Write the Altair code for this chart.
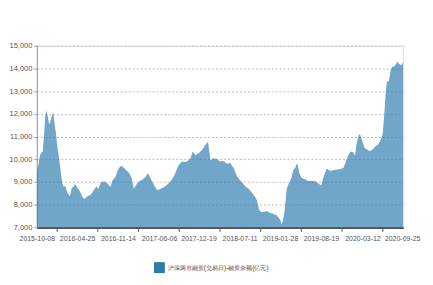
import altair as alt
import pandas as pd

series_name = "沪深两市融资(交易日)-融资余额(亿元)"

dates = [
    "2015-10-08", "2015-10-15", "2015-10-23", "2015-10-30", "2015-11-07", "2015-11-14",
    "2015-11-19", "2015-11-25", "2015-12-01", "2015-12-08", "2015-12-13", "2015-12-21",
    "2015-12-28", "2016-01-04", "2016-01-11", "2016-01-19", "2016-01-27", "2016-02-03",
    "2016-02-11", "2016-02-18", "2016-02-26", "2016-03-08", "2016-03-20", "2016-03-30",
    "2016-04-08", "2016-04-15", "2016-04-27", "2016-05-05", "2016-05-13", "2016-05-21",
    "2016-05-30", "2016-06-07", "2016-06-15", "2016-07-02", "2016-07-18", "2016-07-30",
    "2016-08-09", "2016-08-20", "2016-09-06", "2016-09-21", "2016-09-30", "2016-10-09",
    "2016-10-17", "2016-11-03", "2016-11-14", "2016-11-27", "2016-12-06", "2016-12-22",
    "2017-01-08", "2017-01-20", "2017-02-01", "2017-02-14", "2017-02-26", "2017-03-14",
    "2017-03-28", "2017-04-13", "2017-04-25", "2017-05-11", "2017-05-28", "2017-06-10",
    "2017-06-21", "2017-07-05", "2017-07-16", "2017-08-02", "2017-08-18", "2017-09-02",
    "2017-09-12", "2017-09-28", "2017-10-12", "2017-10-23", "2017-11-09", "2017-11-20",
    "2017-12-04", "2017-12-20", "2018-01-05", "2018-01-22", "2018-02-04", "2018-02-16",
    "2018-03-04", "2018-03-21", "2018-04-06", "2018-04-23", "2018-05-09", "2018-05-26",
    "2018-06-12", "2018-06-28", "2018-07-15", "2018-07-26", "2018-08-08", "2018-08-25",
    "2018-09-10", "2018-09-23", "2018-10-05", "2018-10-16", "2018-10-28", "2018-11-07",
    "2018-11-23", "2018-12-06", "2018-12-18", "2019-01-04", "2019-01-12", "2019-01-20",
    "2019-01-28", "2019-02-05", "2019-02-11", "2019-02-19", "2019-03-02", "2019-03-10",
    "2019-03-19", "2019-03-27", "2019-04-04", "2019-04-13", "2019-04-21", "2019-04-27",
    "2019-05-03", "2019-05-15", "2019-06-01", "2019-06-18", "2019-07-04", "2019-07-21",
    "2019-07-29", "2019-08-15", "2019-08-20", "2019-08-31", "2019-09-10", "2019-09-16",
    "2019-10-03", "2019-10-28", "2019-11-21", "2019-12-08", "2019-12-18", "2020-01-02",
    "2020-01-14", "2020-01-26", "2020-02-04", "2020-02-12", "2020-02-24", "2020-03-01",
    "2020-03-11", "2020-03-23", "2020-04-05", "2020-04-18", "2020-04-30", "2020-05-13",
    "2020-05-29", "2020-06-10", "2020-06-20", "2020-06-26", "2020-07-01", "2020-07-06",
    "2020-07-11", "2020-07-21", "2020-07-31", "2020-08-09", "2020-08-19", "2020-08-26",
    "2020-09-02", "2020-09-08", "2020-09-18", "2020-09-22", "2020-09-25", "2020-09-30",
]

values = [
    9500, 9700, 10150, 10280, 10350, 11200,
    11900, 12160, 11900, 11550, 11600, 11900,
    12080, 11600, 11140, 10500, 10030, 9500,
    8950, 8800, 8820, 8520, 8370, 8740,
    8800, 8910, 8740, 8650, 8520, 8350,
    8250, 8300, 8370, 8440, 8660, 8800,
    8700, 8980, 9020, 8950, 8850, 8800,
    9050, 9240, 9550, 9700, 9680, 9540,
    9390, 9200, 8700, 8900, 9020, 9100,
    9200, 9380, 9150, 8880, 8640, 8680,
    8740, 8800, 8880, 9020, 9240, 9550,
    9750, 9900, 9880, 9900, 10050, 10340,
    10190, 10260, 10410, 10630, 10770, 9970,
    10050, 10000, 9900, 9920, 9800, 9830,
    9600, 9250, 9050, 8950, 8800, 8700,
    8520, 8380, 8200, 7750, 7680, 7680,
    7720, 7640, 7620, 7560, 7530, 7420,
    7350, 7130, 7300, 7700, 8700, 8900,
    9030, 9240, 9540, 9620, 9820, 9700,
    9390, 9170, 9120, 9030, 9050, 9030,
    8990, 8880, 8850, 9200, 9450, 9590,
    9480, 9540, 9560, 9620, 9830, 10190,
    10350, 10300, 10150, 10700, 11100, 11080,
    10780, 10500, 10420, 10350, 10420, 10550,
    10650, 10850, 11100, 11700, 12350, 13000,
    13400, 13450, 13950, 14080, 14100, 14200,
    14310, 14200, 14150, 14150, 14180, 14280,
]

label_dates = ["2015-10-08", "2016-04-25", "2016-11-14", "2017-06-06", "2017-12-19",
               "2018-07-11", "2019-01-28", "2019-08-19", "2020-03-12", "2020-09-25"]
tick_dates = ["2016-01-16", "2016-08-04", "2017-02-24", "2017-09-12", "2018-03-31",
              "2018-10-19", "2019-05-09", "2019-11-30", "2020-06-18"]
y_ticks = [7000, 8000, 9000, 10000, 11000, 12000, 13000, 14000, 15000]

df = pd.DataFrame({"date": pd.to_datetime(dates), "value": values, "series": series_name})

FONT = "Liberation Sans, Arial, sans-serif"

x_scale = alt.Scale(domain=[pd.Timestamp(dates[0]).isoformat(), pd.Timestamp(dates[-1]).isoformat()], nice=False)
y_scale = alt.Scale(domain=[7000, 15000], nice=False, zero=False)

base = alt.Chart(df)

area = base.mark_area(opacity=0.67, interpolate="linear", clip=True).encode(
    x=alt.X("date:T", scale=x_scale, title=None,
            axis=alt.Axis(values=[pd.Timestamp(d).isoformat() for d in tick_dates],
                          orient="bottom", labels=False, ticks=True, tickSize=4, tickColor="#555",
                          domain=True, domainColor="#555", domainWidth=2, grid=False)),
    y=alt.Y("value:Q", title=None, scale=y_scale,
            axis=alt.Axis(values=y_ticks, format=",.0f", grid=True, gridDash=[2, 2],
                          gridColor="#bbbbbb", gridWidth=1, domainColor="#999",
                          tickColor="#999", tickSize=3, labelFontSize=7.5, labelColor="#555",
                          labelFont=FONT, labelPadding=2)),
    color=alt.Color("series:N", title=None,
                    scale=alt.Scale(range=["#2B7BAF"]),
                    legend=alt.Legend(orient="none", legendX=118, legendY=218,
                                      symbolType="square", symbolSize=120,
                                      symbolOpacity=1, symbolStrokeWidth=0,
                                      labelFontSize=6.5, labelFont=FONT, labelColor="#444",
                                      labelLimit=300, labelOffset=3)),
)

labels_layer = base.mark_point(opacity=0).encode(
    x=alt.X("date:T", scale=x_scale, title=None,
            axis=alt.Axis(values=[pd.Timestamp(d).isoformat() for d in label_dates],
                          orient="bottom", format="%Y-%m-%d", labels=True, ticks=False,
                          domain=False, grid=False, labelFontSize=7, labelFont=FONT,
                          labelColor="#555", labelPadding=7, labelOverlap=False,
                          labelFlush=False)),
)

chart = alt.layer(area, labels_layer).resolve_axis(x="independent").properties(
    width=369, height=183,
    padding={"left": 1, "top": 33, "right": 5, "bottom": 5},
).configure_view(stroke=None).configure(background="white")

chart.save("out.html", embed_options={"renderer": "svg", "actions": False})
